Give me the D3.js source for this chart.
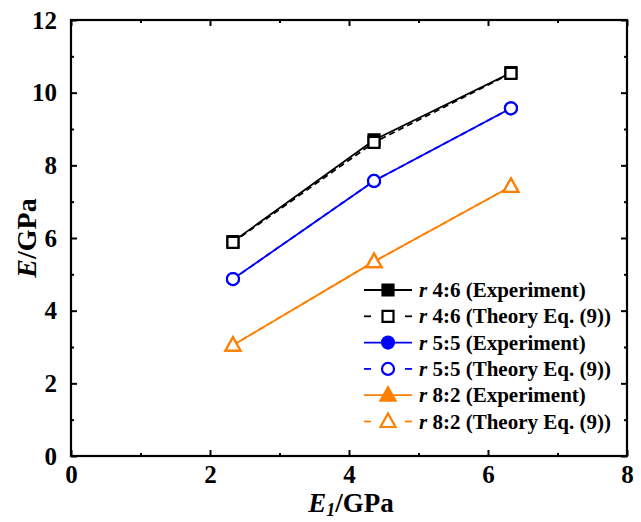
<!DOCTYPE html>
<html>
<head>
<meta charset="utf-8">
<script src="https://cdn.jsdelivr.net/npm/d3@7/dist/d3.min.js"></script>
<style>
  html, body { margin: 0; padding: 0; background: #fff; }
  svg { display: block; font-family: "Liberation Serif", "Times New Roman", serif; }
</style>
</head>
<body>
<svg id="chart" width="641" height="522"></svg>
<script>
// Modulus of the layer material (x) and composite modulus (y), GPa
const e1Values = [2.33, 4.36, 6.33];

const exp46 = [5.90, 8.70, 10.55];
const thy46 = [5.88, 8.63, 10.53];
const exp55 = [4.87, 7.57, 9.57];
const thy55 = [4.87, 7.57, 9.57];
const exp82 = [3.05, 5.35, 7.42];
const thy82 = [3.05, 5.35, 7.42];

const xTicks = [0, 2, 4, 6, 8];
const yTicks = [0, 2, 4, 6, 8, 10, 12];
const xMinor = [1, 3, 5, 7];
const yMinor = [1, 3, 5, 7, 9, 11];

const seriesLabels = [
  ["4:6", "(Experiment)"],
  ["4:6", "(Theory Eq. (9))"],
  ["5:5", "(Experiment)"],
  ["5:5", "(Theory Eq. (9))"],
  ["8:2", "(Experiment)"],
  ["8:2", "(Theory Eq. (9))"]
];

const BLACK = "#000000", BLUE = "#0000ff", ORANGE = "#ff7f00";

const series = [
  { values: exp46, color: BLACK,  shape: "square",   filled: true,  dashed: false },
  { values: thy46, color: BLACK,  shape: "square",   filled: false, dashed: true },
  { values: exp55, color: BLUE,   shape: "circle",   filled: true,  dashed: false },
  { values: thy55, color: BLUE,   shape: "circle",   filled: false, dashed: true },
  { values: exp82, color: ORANGE, shape: "triangle", filled: true,  dashed: false },
  { values: thy82, color: ORANGE, shape: "triangle", filled: false, dashed: true }
];

const svg = d3.select("#chart");
const L = 71, R = 627, T = 20, B = 456;

const x = d3.scaleLinear().domain([0, 8]).range([L, R]);
const y = d3.scaleLinear().domain([0, 12]).range([B, T]);

// marker path generator
function markerPath(shape, cx, cy) {
  if (shape === "square") {
    const h = 5.5;
    return `M${cx - h},${cy - h}H${cx + h}V${cy + h}H${cx - h}Z`;
  }
  if (shape === "circle") {
    const r = 6;
    return `M${cx - r},${cy}a${r},${r} 0 1,0 ${2 * r},0a${r},${r} 0 1,0 ${-2 * r},0Z`;
  }
  // triangle
  const w = 7.5, hTop = 8, hBot = 5.5;
  return `M${cx},${cy - hTop}L${cx + w},${cy + hBot}L${cx - w},${cy + hBot}Z`;
}

const line = d3.line().x((d, i) => x(e1Values[i])).y(d => y(d));

const plot = svg.append("g");

// lines
series.forEach(s => {
  plot.append("path")
    .datum(s.values)
    .attr("d", line)
    .attr("fill", "none")
    .attr("stroke", s.color)
    .attr("stroke-width", 1.8)
    .attr("stroke-dasharray", s.dashed ? "6,4" : null);
});

// markers
series.forEach(s => {
  plot.selectAll(null)
    .data(s.values)
    .enter()
    .append("path")
    .attr("d", (d, i) => markerPath(s.shape, x(e1Values[i]), y(d)))
    .attr("fill", s.filled ? s.color : "#fff")
    .attr("stroke", s.color)
    .attr("stroke-width", 2.2);
});

// axes with inward ticks on all four sides
const fontTick = 25;
const axisG = svg.append("g");

function drawAxis(axis, transform) {
  const g = axisG.append("g").attr("transform", transform).call(axis);
  g.select(".domain").remove();
  g.selectAll("line").attr("stroke", "#000").attr("stroke-width", 2);
  return g;
}

const bottom = drawAxis(
  d3.axisBottom(x).tickValues(xTicks).tickSize(-6).tickPadding(9).tickFormat(d3.format("d")),
  `translate(0,${B})`);
bottom.selectAll("text")
  .attr("font-size", fontTick).attr("font-weight", "bold").attr("fill", "#000")
  .attr("font-family", "Liberation Serif");

drawAxis(d3.axisBottom(x).tickValues(xMinor).tickSize(-3).tickFormat(""), `translate(0,${B})`);
drawAxis(d3.axisTop(x).tickValues(xTicks).tickSize(-6).tickFormat(""), `translate(0,${T})`);
drawAxis(d3.axisTop(x).tickValues(xMinor).tickSize(-3).tickFormat(""), `translate(0,${T})`);

const left = drawAxis(
  d3.axisLeft(y).tickValues(yTicks).tickSize(-6).tickPadding(14).tickFormat(d3.format("d")),
  `translate(${L},0)`);
left.selectAll("text")
  .attr("font-size", fontTick).attr("font-weight", "bold").attr("fill", "#000")
  .attr("font-family", "Liberation Serif");

drawAxis(d3.axisLeft(y).tickValues(yMinor).tickSize(-3).tickFormat(""), `translate(${L},0)`);
drawAxis(d3.axisRight(y).tickValues(yTicks).tickSize(-6).tickFormat(""), `translate(${R},0)`);
drawAxis(d3.axisRight(y).tickValues(yMinor).tickSize(-3).tickFormat(""), `translate(${R},0)`);

// frame
svg.append("rect")
  .attr("x", L).attr("y", T)
  .attr("width", R - L).attr("height", B - T)
  .attr("fill", "none").attr("stroke", "#000").attr("stroke-width", 2.2);

// axis titles
const xt = svg.append("text")
  .attr("x", (L + R) / 2 + 2).attr("y", 512)
  .attr("text-anchor", "middle")
  .attr("font-size", 27).attr("font-weight", "bold");
xt.append("tspan").attr("font-style", "italic").text("E");
xt.append("tspan").attr("font-style", "italic").attr("font-size", 18).attr("dy", 4).text("1");
xt.append("tspan").attr("dy", -4).text("/GPa");

const yt = svg.append("text")
  .attr("transform", `translate(36,${(T + B) / 2}) rotate(-90)`)
  .attr("text-anchor", "middle")
  .attr("font-size", 28).attr("font-weight", "bold");
yt.append("tspan").attr("font-style", "italic").text("E");
yt.append("tspan").text("/GPa");

// legend
const legend = svg.append("g");
const legX0 = 364, legX1 = 412, legTextX = 419, legY0 = 290, legDY = 26.3;

series.forEach((s, i) => {
  const cy = legY0 + i * legDY;
  const cx = (legX0 + legX1) / 2;
  if (s.dashed) {
    legend.append("line").attr("x1", legX0).attr("x2", legX0 + 7).attr("y1", cy).attr("y2", cy)
      .attr("stroke", s.color).attr("stroke-width", 1.8);
    legend.append("line").attr("x1", legX1 - 7).attr("x2", legX1).attr("y1", cy).attr("y2", cy)
      .attr("stroke", s.color).attr("stroke-width", 1.8);
  } else {
    legend.append("line").attr("x1", legX0).attr("x2", legX1).attr("y1", cy).attr("y2", cy)
      .attr("stroke", s.color).attr("stroke-width", 1.8);
  }
  legend.append("path")
    .attr("d", markerPath(s.shape, cx, cy))
    .attr("fill", s.filled ? s.color : "#fff")
    .attr("stroke", s.color)
    .attr("stroke-width", 2.2);
  const t = legend.append("text")
    .attr("x", legTextX).attr("y", cy + 7)
    .attr("font-size", 21).attr("font-weight", "bold").attr("fill", "#000");
  t.append("tspan").attr("font-style", "italic").text("r ");
  t.append("tspan").text(seriesLabels[i][0] + " " + seriesLabels[i][1]);
});
</script>
</body>
</html>
